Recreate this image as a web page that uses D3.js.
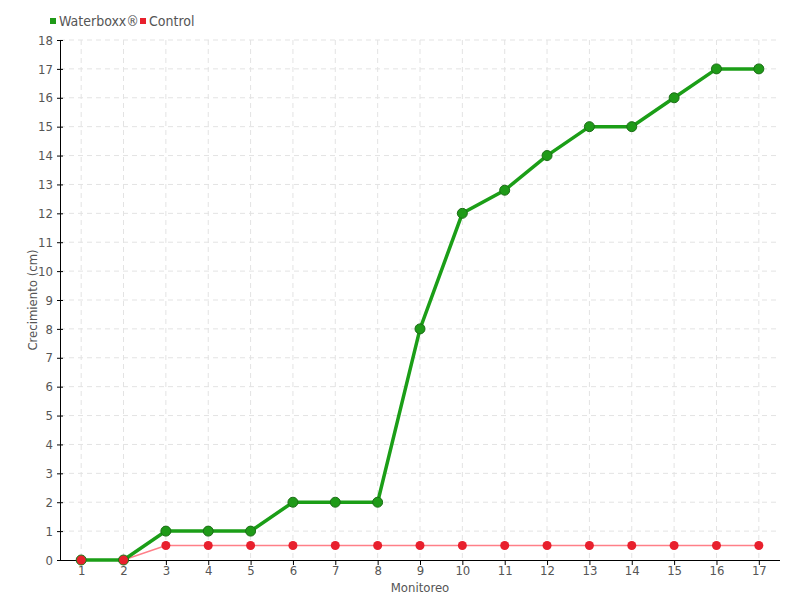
<!DOCTYPE html>
<html><head><meta charset="utf-8">
<script src="https://cdn.jsdelivr.net/npm/d3@7"></script>
<style>
body{margin:0;background:#fff;}
text{font-family:"DejaVu Sans Condensed","DejaVu Sans",sans-serif;font-stretch:condensed;fill:#555;}
</style></head>
<body><svg id="c" width="800" height="600"></svg>
<script>
const categories = ["1","2","3","4","5","6","7","8","9","10","11","12","13","14","15","16","17"];
const waterboxx = [0,0,1,1,1,2,2,2,8,12,12.8,14,15,15,16,17,17];
const control = [0,0,0.5,0.5,0.5,0.5,0.5,0.5,0.5,0.5,0.5,0.5,0.5,0.5,0.5,0.5,0.5];
const yTicks = d3.range(0,19);
const seriesNames = ["Waterboxx®","Control"];

const svg = d3.select("#c");
const L=60,R=780,T=40,B=560;
const x = d3.scalePoint().domain(categories).range([L,R]).padding(0.5);
const y = d3.scaleLinear().domain([0,18]).range([B,T]);

// grid
const g = svg.append("g");
g.selectAll(".hg").data(yTicks.slice(1)).enter().append("line")
 .attr("x1",L).attr("x2",R).attr("y1",d=>y(d)).attr("y2",d=>y(d))
 .attr("stroke","#e3e3e3").attr("stroke-dasharray","5,4");
g.selectAll(".vg").data(categories).enter().append("line")
 .attr("x1",d=>x(d)).attr("x2",d=>x(d)).attr("y1",T).attr("y2",B)
 .attr("stroke","#e3e3e3").attr("stroke-dasharray","5,4");

// axes
const xa = svg.append("g").attr("transform",`translate(0,${B})`)
 .call(d3.axisBottom(x).tickSize(5).tickPadding(1));
xa.select(".domain").attr("d",`M${L},0.5H${R}`).attr("stroke","#000");
xa.selectAll("text").attr("font-size",13).attr("fill","#555");
const ya = svg.append("g").attr("transform",`translate(${L},0)`)
 .call(d3.axisLeft(y).tickValues(yTicks).tickFormat(d3.format("d")).tickSize(3).tickPadding(4));
ya.select(".domain").attr("d",`M0.5,${T}V${B}`).attr("stroke","#000");
ya.selectAll(".tick line").attr("x1",-3).attr("x2",3);
ya.selectAll("text").attr("font-size",13).attr("fill","#555");

// axis titles
svg.append("text").attr("x",420).attr("y",592).attr("text-anchor","middle").attr("font-size",13).text("Monitoreo");
svg.append("text").attr("transform","translate(37,300) rotate(-90)").attr("text-anchor","middle").attr("font-size",13).text("Crecimiento (cm)");

// lines
const line = d3.line().x((d,i)=>x(categories[i])).y(d=>y(d));
svg.append("path").datum(control).attr("d",line).attr("fill","none").attr("stroke","#ff7f88").attr("stroke-width",1.6);
svg.append("path").datum(waterboxx).attr("d",line).attr("fill","none").attr("stroke","#1b9e17").attr("stroke-width",3.5);
svg.selectAll(".gp").data(waterboxx).enter().append("circle")
 .attr("cx",(d,i)=>x(categories[i])).attr("cy",d=>y(d)).attr("r",5)
 .attr("fill","#1f9a18").attr("stroke","#1c6e17").attr("stroke-width",1);
svg.selectAll(".rp").data(control).enter().append("circle")
 .attr("cx",(d,i)=>x(categories[i])).attr("cy",d=>y(d)).attr("r",4.5)
 .attr("fill","#e8202d");

// legend
const lg = svg.append("g");
const lx=[50,140], cols=["#1f9a18","#e8202d"];
seriesNames.forEach((n,i)=>{
 lg.append("rect").attr("x",lx[i]).attr("y",18).attr("width",6).attr("height",6).attr("fill",cols[i]);
 lg.append("text").attr("x",lx[i]+9).attr("y",26).attr("font-size",14).text(n);
});
</script></body></html>
